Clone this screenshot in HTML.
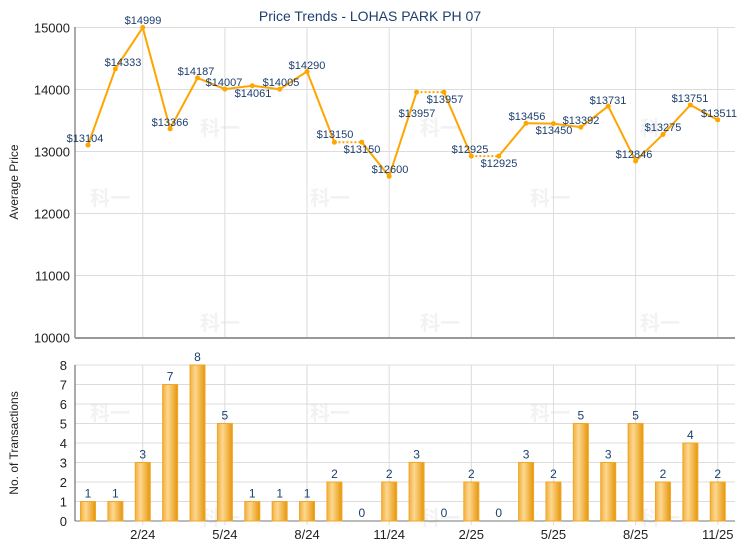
<!DOCTYPE html>
<html><head><meta charset="utf-8"><style>
body{margin:0;background:#fff;width:740px;height:550px;overflow:hidden}
svg{font-family:"Liberation Sans","Noto Sans CJK SC",sans-serif}
</style></head><body>
<svg id="s" width="740" height="550" xmlns="http://www.w3.org/2000/svg">
<defs>
<linearGradient id="bg" x1="0" x2="1" y1="0" y2="0">
<stop offset="0" stop-color="#f0b040"/><stop offset="0.35" stop-color="#fdd890"/><stop offset="1" stop-color="#e6960a"/>
</linearGradient>
</defs>
<rect width="740" height="550" fill="#fff"/>
<text x="370" y="21" text-anchor="middle" font-size="14" fill="#1d3f6e">Price Trends - LOHAS PARK PH 07</text>
<text transform="translate(18,182) rotate(-90)" text-anchor="middle" font-size="12" fill="#222">Average Price</text>
<text transform="translate(18,443) rotate(-90)" text-anchor="middle" font-size="12" fill="#222">No. of Transactions</text>
<g id="g"></g>
</svg>
<script>
var g=document.getElementById('g'),h='';
var X0=88,DX=27.38;
function x(i){return X0+DX*i}
// watermarks
[[200,135],[420,135],[640,135],[200,330],[420,330],[640,330],[200,525],[420,525],[640,525],[90,205],[310,205],[530,205],[90,420],[310,420],[530,420]].forEach(function(p){h+='<text x="'+p[0]+'" y="'+p[1]+'" font-size="20" font-weight="bold" fill="#f2f2f2">科一</text>'});
// top grid
for(var v=10000;v<=15000;v+=1000){var y=337.5-(v-10000)*0.062;h+='<line x1="75" x2="735" y1="'+y+'" y2="'+y+'" stroke="#dcdcdc"/>';h+='<text x="70" y="'+(y+5)+'" text-anchor="end" font-size="13" fill="#222">'+v+'</text>'}
// bottom grid
for(var k=0;k<=8;k++){var y=521-k*19.5;h+='<line x1="75" x2="735" y1="'+y+'" y2="'+y+'" stroke="#dcdcdc"/>';h+='<text x="67" y="'+(y+5)+'" text-anchor="end" font-size="13" fill="#222">'+k+'</text>'}
var ticks=['2/24','5/24','8/24','11/24','2/25','5/25','8/25','11/25'];
for(var t=0;t<8;t++){var xx=x(2+3*t);h+='<line x1="'+xx+'" x2="'+xx+'" y1="27" y2="337" stroke="#dcdcdc"/><line x1="'+xx+'" x2="'+xx+'" y1="365" y2="525" stroke="#dcdcdc"/>';h+='<text x="'+xx+'" y="539" text-anchor="middle" font-size="13" fill="#222">'+ticks[t]+'</text>'}
h+='<line x1="75" x2="75" y1="27" y2="338" stroke="#555"/><line x1="75" x2="735" y1="338" y2="338" stroke="#999" stroke-width="2"/>';
h+='<line x1="75" x2="75" y1="365" y2="521" stroke="#555"/><line x1="75" x2="735" y1="521" y2="521" stroke="#777"/>';
var P=[13104,14333,14999,13366,14187,14007,14061,14005,14290,13150,13150,12600,13957,13957,12925,12925,13456,13450,13392,13731,12846,13275,13751,13511];
var B=[1,1,3,7,8,5,1,1,1,2,0,2,3,0,2,0,3,2,5,3,5,2,4,2];
// bars
B.forEach(function(b,i){var xx=x(i);if(b>0){h+='<rect x="'+(xx-7.5)+'" y="'+(521-b*19.5)+'" width="15" height="'+(b*19.5)+'" fill="url(#bg)" stroke="#f2a626" stroke-width="1"/>'}h+='<text x="'+xx+'" y="'+(521-b*19.5-4)+'" text-anchor="middle" font-size="12" fill="#1d3f6e">'+b+'</text>'});
// line
var dotted={9:1,12:1,14:1};
function py(v){return 337.5-(v-10000)*0.062}
for(var i=0;i<P.length-1;i++){h+='<line x1="'+x(i)+'" y1="'+py(P[i])+'" x2="'+x(i+1)+'" y2="'+py(P[i+1])+'" stroke="#ffa500" stroke-width="2"'+(dotted[i]?' stroke-dasharray="2,2"':'')+'/>'}
P.forEach(function(v,i){h+='<circle cx="'+x(i)+'" cy="'+py(v)+'" r="2.5" fill="#ffa500"/>'});
var L=[[85,142],[123,66],[143,24],[170,126],[196,75],[224,86],[253,97],[281,86],[307,69],[335,138],[362,153],[390,173],[417,117],[445,103],[470,153],[499,167],[527,120],[554,134],[581,124],[608,104],[634,158],[663,131],[690,102],[719,117]];
L.forEach(function(p,i){h+='<text x="'+p[0]+'" y="'+p[1]+'" text-anchor="middle" font-size="11" fill="#1d3f6e">$'+P[i]+'</text>'});
g.innerHTML=h;
</script>
</body></html>
